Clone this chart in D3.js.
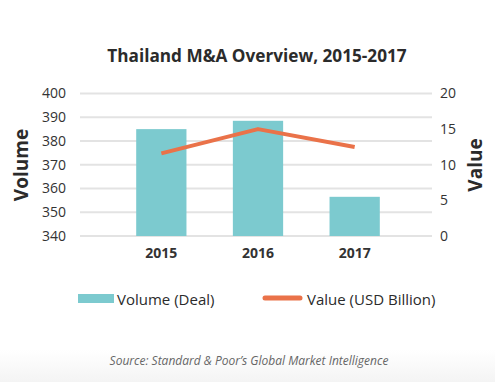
<!DOCTYPE html>
<html><head><meta charset="utf-8">
<script src="https://cdn.jsdelivr.net/npm/d3@7/dist/d3.min.js"></script>
<style>body{margin:0;background:#fff;} svg{display:block;font-family:"Open Sans",sans-serif;}</style>
</head><body>
<svg id="c" width="495" height="382"></svg>
<script>
const years = ["2015","2016","2017"];
const volume = [385, 388.5, 356.5];
const value = [11.6, 15.0, 12.5];
const volTicks = [340,350,360,370,380,390,400];
const valTicks = [0,5,10,15,20];

const svg = d3.select("#c");
const defs = svg.append("defs");
const g = defs.append("linearGradient").attr("id","bg").attr("x1",0).attr("x2",0).attr("y1",0).attr("y2",1);
g.append("stop").attr("offset","0%").attr("stop-color","#fff");
g.append("stop").attr("offset","100%").attr("stop-color","#f4f4f4");
svg.append("rect").attr("x",0).attr("y",350).attr("width",495).attr("height",32).attr("fill","url(#bg)");

const x = d3.scaleBand().domain(years).range([113,403]).paddingInner(0.48).paddingOuter(0.24);
const yL = d3.scaleLinear().domain([340,400]).range([236,93.5]);
const yR = d3.scaleLinear().domain([0,20]).range([236,93.5]);

// gridlines
svg.append("g").selectAll("line").data(volTicks).join("line")
  .attr("x1",80).attr("x2",432).attr("y1",d=>yL(d)).attr("y2",d=>yL(d))
  .attr("stroke","#e3e3e3").attr("stroke-width",2);

// left axis
const axL = svg.append("g").attr("transform","translate(80,0)")
  .call(d3.axisLeft(yL).tickValues(volTicks).tickSize(0).tickPadding(14));
axL.select(".domain").remove();
axL.selectAll("text").attr("font-size",14).attr("fill","#333").attr("font-family","Open Sans");

// right axis
const axR = svg.append("g").attr("transform","translate(432,0)")
  .call(d3.axisRight(yR).tickValues(valTicks).tickSize(0).tickPadding(8));
axR.select(".domain").remove();
axR.selectAll("text").attr("font-size",14).attr("fill","#333").attr("font-family","Open Sans");

// x axis
const axX = svg.append("g").attr("transform","translate(0,243)")
  .call(d3.axisBottom(x).tickSize(0).tickPadding(5));
axX.select(".domain").remove();
axX.selectAll("text").attr("font-size",14).attr("font-weight","bold").attr("fill","#333").attr("font-family","Open Sans");

// bars
svg.append("g").selectAll("rect").data(years).join("rect")
  .attr("x",d=>x(d)).attr("width",x.bandwidth())
  .attr("y",(d,i)=>yL(volume[i])).attr("height",(d,i)=>yL(340)-yL(volume[i]))
  .attr("fill","#7ccacf");

// line
const line = d3.line().x((d,i)=>x(years[i])+x.bandwidth()/2).y(d=>yR(d));
svg.append("path").datum(value).attr("d",line).attr("fill","none")
  .attr("stroke","#ea7249").attr("stroke-width",4).attr("stroke-linejoin","round");

// title
svg.append("text").attr("x",257).attr("y",62).attr("text-anchor","middle")
  .attr("font-size",17.2).attr("font-weight","bold").attr("fill","#2b2b2b")
  .attr("font-family","'Open Sans'").text("Thailand M&A Overview, 2015-2017");

// axis titles
svg.append("text").attr("transform","translate(28,165) rotate(-90)").attr("text-anchor","middle")
  .attr("font-size",19).attr("font-weight","bold").attr("fill","#2b2b2b").text("Volume");
svg.append("text").attr("transform","translate(482,165) rotate(-90)").attr("text-anchor","middle")
  .attr("font-size",19).attr("font-weight","bold").attr("fill","#2b2b2b").text("Value");

// legend
svg.append("rect").attr("x",78).attr("y",294).attr("width",36).attr("height",9).attr("fill","#7ccacf");
svg.append("text").attr("x",117).attr("y",304.5).attr("font-size",15).attr("fill","#2b2b2b").text("Volume (Deal)");
svg.append("line").attr("x1",265).attr("x2",300).attr("y1",298).attr("y2",298)
  .attr("stroke","#ea7249").attr("stroke-width",5).attr("stroke-linecap","round");
svg.append("text").attr("x",307).attr("y",304.5).attr("font-size",15).attr("fill","#2b2b2b").text("Value (USD Billion)");

// source
svg.append("text").attr("x",249).attr("y",365).attr("text-anchor","middle")
  .attr("font-size",12).attr("font-style","italic").attr("fill","#666")
  .text("Source: Standard & Poor\u2019s Global Market Intelligence");
</script>
</body></html>
